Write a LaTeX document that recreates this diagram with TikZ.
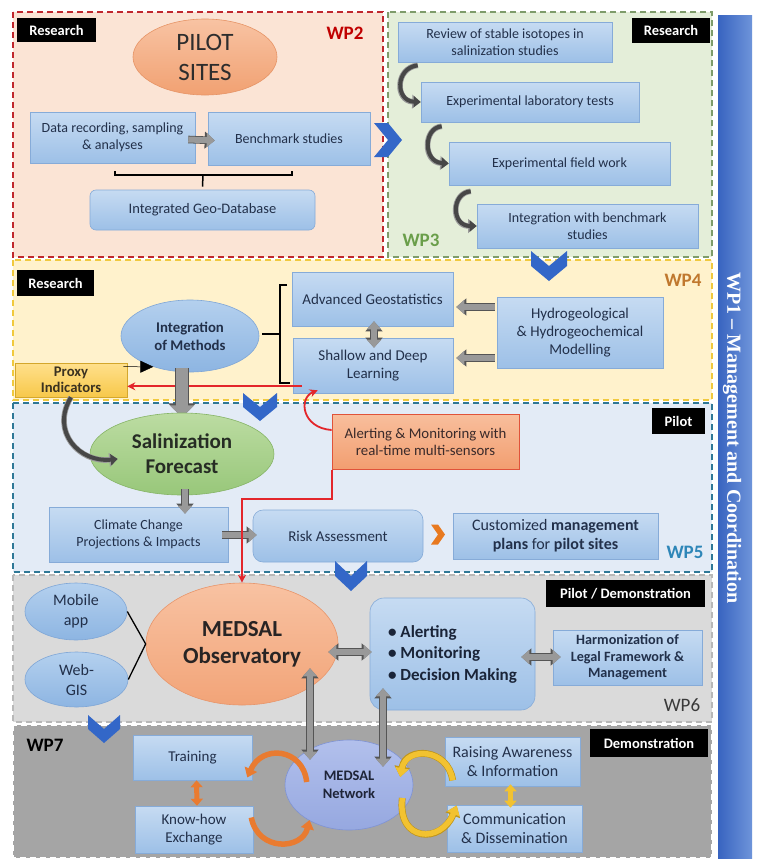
\documentclass[tikz,border=0pt]{standalone}
\usepackage{fontspec}
\setmainfont{Carlito}
\newfontfamily\titlefont{Liberation Serif}
\usetikzlibrary{arrows.meta,calc,shapes.geometric}

\definecolor{boxtop}{HTML}{C6DBF2}
\definecolor{boxbot}{HTML}{9DC0E7}
\definecolor{boxline}{HTML}{86ABD8}
\definecolor{boxtext}{HTML}{22304A}
\definecolor{chevblue}{HTML}{3367C8}
\definecolor{chevorange}{HTML}{E8791F}
\definecolor{gfill}{HTML}{999999}
\definecolor{gline}{HTML}{555555}
\definecolor{redline}{HTML}{E3262B}
\definecolor{ofill}{HTML}{E97B30}
\definecolor{oline}{HTML}{B9581B}
\definecolor{yfill}{HTML}{F2C230}
\definecolor{yline}{HTML}{BF951A}
\colorlet{cdark}{black!72}

\newcommand{\chevD}[5][chevblue]{\fill[#1] ({#2-#4/2},{#3-#5/2}) -- ({#2},{#3}) -- ({#2+#4/2},{#3-#5/2}) -- ({#2+#4/2},{#3}) -- ({#2},{#3+#5/2}) -- ({#2-#4/2},{#3}) -- cycle;}
\newcommand{\chevR}[5][chevblue]{\fill[#1] ({#2-#4/2},{#3-#5/2}) -- ({#2},{#3-#5/2}) -- ({#2+#4/2},{#3}) -- ({#2},{#3+#5/2}) -- ({#2-#4/2},{#3+#5/2}) -- ({#2},{#3}) -- cycle;}

\tikzset{
  wpframe/.style={dash pattern=on 6pt off 4pt, line width=1.4pt},
  box/.style={draw=boxline, line width=0.6pt, top color=boxtop, bottom color=boxbot,
    text=boxtext, align=center, inner sep=2pt, font=\fontsize{14}{17}\selectfont},
  ell/.style={ellipse, line width=0.6pt, align=center, inner sep=0pt},
  lbl/.style={fill=black, text=white, inner sep=0pt, font=\bfseries\fontsize{14.5}{16}\selectfont},
  wp/.style={font=\bfseries\fontsize{19}{21}\selectfont, inner sep=0pt},
  garrow/.style={draw=gfill, line width=6pt, -{Triangle[width=14pt,length=8pt]},
    preaction={draw=gline, line width=7.6pt, -{Triangle[width=16.5pt,length=10pt]}}},
  gdarrow/.style={draw=gfill, line width=6pt, {Triangle[width=14pt,length=8pt]}-{Triangle[width=14pt,length=8pt]},
    preaction={draw=gline, line width=7.6pt, {Triangle[width=16.5pt,length=10pt]}-{Triangle[width=16.5pt,length=10pt]}}},
  bigarrow/.style={draw=gfill, line width=12pt, -{Triangle[width=24pt,length=12pt]},
    preaction={draw=gline, line width=14pt, -{Triangle[width=27pt,length=14pt]}}},
  carrow/.style={draw=cdark, line width=4pt, -{Triangle[width=11pt,length=7pt]},
    preaction={draw=gline!60, line width=5.6pt, -{Triangle[width=13.5pt,length=8.5pt]}}},
  redarrow/.style={draw=redline, line width=1.8pt, -{Stealth[width=8pt,length=8pt]}},
  ocarrow/.style={draw=ofill, line width=5.5pt, -{Triangle[width=13pt,length=9pt]}},
  odarrow/.style={draw=ofill, line width=5pt, {Triangle[width=12pt,length=7pt]}-{Triangle[width=12pt,length=7pt]}},
  ycarrow/.style={draw=yfill, line width=5.5pt, -{Triangle[width=13pt,length=9pt]},
    preaction={draw=yline, line width=6.8pt, -{Triangle[width=15pt,length=10.5pt]}}},
  ydarrow/.style={draw=yfill, line width=5pt, {Triangle[width=12pt,length=7pt]}-{Triangle[width=12pt,length=7pt]}},
}

\begin{document}
\begin{tikzpicture}[x=1pt,y=-1pt]
\useasboundingbox (0,0) rectangle (758,860);
\fill[white] (0,0) rectangle (758,860);

% ---------------- frames
\filldraw[wpframe, draw={rgb,255:red,192;green,39;blue,45}, fill={rgb,255:red,251;green,228;blue,213}] (13,12) rectangle (383,257);
\filldraw[wpframe, draw={rgb,255:red,126;green,156;blue,106}, fill={rgb,255:red,228;green,238;blue,217}] (388,12) rectangle (712,257);
\filldraw[wpframe, draw={rgb,255:red,240;green,201;blue,62}, fill={rgb,255:red,255;green,242;blue,204}] (13,260) rectangle (712,400);
\filldraw[wpframe, draw={rgb,255:red,47;green,120;blue,150}, fill={rgb,255:red,227;green,235;blue,246}] (13,403) rectangle (712,572);
\filldraw[wpframe, draw={rgb,255:red,184;green,184;blue,184}, fill={rgb,255:red,218;green,218;blue,218}] (13,575) rectangle (712,722);
\filldraw[wpframe, draw=white, fill={rgb,255:red,165;green,165;blue,165}] (13,725) rectangle (712,858);

% ---------------- right bar
\fill[left color={rgb,255:red,56;green,100;blue,192}, right color={rgb,255:red,110;green,148;blue,218}] (718,15) rectangle (752,858);
\node[rotate=-90, text=white, inner sep=0pt, font=\titlefont\bfseries\fontsize{20}{22}\selectfont] (wp1) at (732,438) {WP1 – Management and Coordination};

% ---------------- labels
\node[lbl, minimum width=79, minimum height=24] (r2) at (56.5,30) {Research};
\node[lbl, minimum width=78, minimum height=25] (r3) at (671,30.5) {Research};
\node[lbl, minimum width=77, minimum height=26] (r4) at (55.5,283) {Research};
\node[lbl, minimum width=53, minimum height=26] (pl) at (678.5,421) {Pilot};
\node[lbl, minimum width=159, minimum height=27] (pdl) at (625.5,593.5) {Pilot / Demonstration};
\node[lbl, minimum width=118, minimum height=28] (dml) at (649,743) {Demonstration};

\node[wp, text={rgb,255:red,192;green,0;blue,0}] (wp2) at (345,33) {WP2};
\node[wp, text={rgb,255:red,106;green,158;blue,74}] (wp3) at (421,240) {WP3};
\node[wp, text={rgb,255:red,192;green,120;blue,46}] (wp4) at (683,280) {WP4};
\node[wp, text={rgb,255:red,46;green,134;blue,184}] (wp5) at (685,552) {WP5};
\node[wp, text={rgb,255:red,58;green,58;blue,58}, font=\fontsize{19}{21}\selectfont] (wp6) at (682,705) {WP6};
\node[wp, text=black] (wp7) at (45,745) {WP7};

% ---------------- WP2
\node[ell, top color={rgb,255:red,248;green,195;blue,163}, bottom color={rgb,255:red,241;green,161;blue,114}, draw={rgb,255:red,230;green,148;blue,102},
  minimum width=144, minimum height=76, text={rgb,255:red,45;green,45;blue,45}, font=\fontsize{25}{30}\selectfont] (pilot) at (205,57) {PILOT\\SITES};
\node[box, minimum width=165, minimum height=51] (data) at (112.5,137.5) {Data recording, sampling\\\& analyses};
\node[box, minimum width=162, minimum height=53] (bench) at (289,138.5) {Benchmark studies};
\node[box, rounded corners=6pt, minimum width=225, minimum height=40, font=\fontsize{14.5}{17}\selectfont] (geodb) at (202.5,210) {Integrated Geo-Database};
\draw[garrow] ($(data.east)+(-7,2)$) -- ($(bench.west)+(7,2)$);
\draw[line width=1.5pt] (115,171) -- (115,175) -- (292,175) -- (292,171);
\coordinate (brk) at (203,175);
\draw[line width=1.5pt] (brk) -- ($(geodb.north)+(0,-3)$);
\chevR{388}{140}{28}{34}

% ---------------- WP3
\node[box, minimum width=214, minimum height=40] (review) at (505,42) {Review of stable isotopes in\\salinization studies};
\node[box, minimum width=218, minimum height=40] (lab) at (530,102) {Experimental laboratory tests};
\node[box, minimum width=221, minimum height=43] (field) at (559.5,163.5) {Experimental field work};
\node[box, minimum width=221, minimum height=44] (integ) at (587.5,226) {Integration with benchmark\\studies};
\draw[carrow] ($(review.south west)+(20,3)$) .. controls (395,68) and (395,101) .. (lab.west);
\draw[carrow] ($(lab.south west)+(21,4)$) .. controls (423,128) and (423,162) .. (field.west);
\draw[carrow] ($(field.south west)+(22,6)$) .. controls (451,193) and (451,226) .. (integ.west);
\chevD{549}{266}{36}{30}

% ---------------- WP4
\node[ell, top color={rgb,255:red,180;green,208;blue,238}, bottom color={rgb,255:red,141;green,181;blue,226}, draw={rgb,255:red,127;green,166;blue,214},
  minimum width=138, minimum height=72, text=boxtext, font=\bfseries\fontsize{14.8}{18}\selectfont] (integm) at (190,336) {Integration\\of Methods};
\node[box, minimum width=161, minimum height=54, font=\fontsize{15}{18}\selectfont] (advgeo) at (372.5,299) {Advanced Geostatistics};
\node[box, minimum width=160, minimum height=55, font=\fontsize{15}{18}\selectfont] (shallow) at (373,365.5) {Shallow and Deep\\Learning};
\node[box, minimum width=166, minimum height=71, font=\fontsize{15}{18}\selectfont] (hydro) at (580,332.5) {Hydrogeological\\\& Hydrogeochemical\\Modelling};
\node[draw={rgb,255:red,212;green,167;blue,44}, top color={rgb,255:red,255;green,224;blue,140}, bottom color={rgb,255:red,247;green,200;blue,74},
  line width=0.6pt, minimum width=112, minimum height=34, inner sep=0pt, align=center,
  text={rgb,255:red,59;green,50;blue,32}, font=\bfseries\fontsize{14.7}{16}\selectfont] (proxy) at (71,380) {Proxy\\Indicators};
\draw[line width=1.5pt] (262,334) -- (280,334);
\draw[line width=1.5pt] (287,285) -- (280,285) -- (280,383) -- (290,383);
\draw[garrow] ($(hydro.west)+(-2,-25.5)$) -- ($(advgeo.east)+(3,8)$);
\draw[garrow] ($(hydro.west)+(-2,25.5)$) -- ($(shallow.east)+(3,-7.5)$);
\draw[gdarrow] ($(advgeo.south)+(1.5,-5)$) -- ($(shallow.north)+(1,10)$);
\coordinate (rs) at ($(shallow.south west)+(9,-7)$);
\draw[redarrow] (rs) -- (proxy.east |- rs);
\draw[-{Triangle[width=12pt,length=13pt]}, line width=0.5pt] ($(proxy.north east)+(-4,4)$) -- (integm.220);
\coordinate (ba) at ($(integm.south)+(-8,-4)$);
\draw[bigarrow] (ba) -- ($(integm.south)+(-8,45)$);
\chevD{260}{407}{34}{28}

% ---------------- WP5
\node[ell, top color={rgb,255:red,188;green,220;blue,162}, bottom color={rgb,255:red,152;green,199;blue,122}, draw={rgb,255:red,134;green,180;blue,102},
  minimum width=184, minimum height=82, text={rgb,255:red,38;green,44;blue,36}, font=\bfseries\fontsize{21}{25}\selectfont] (salin) at (182,454) {Salinization\\Forecast};
\node[draw={rgb,255:red,224;green,83;blue,58}, top color={rgb,255:red,248;green,190;blue,156}, bottom color={rgb,255:red,242;green,158;blue,112},
  line width=0.8pt, minimum width=187, minimum height=55, inner sep=0pt, align=center,
  text={rgb,255:red,58;green,42;blue,42}, font=\fontsize{14.8}{17.5}\selectfont] (alert) at (425.5,442) {Alerting \& Monitoring with\\real-time multi-sensors};
\node[box, minimum width=179, minimum height=55, font=\fontsize{14}{17.5}\selectfont] (climate) at (138.5,534.5) {Climate Change\\Projections \& Impacts};
\node[box, rounded corners=10pt, minimum width=170, minimum height=52, font=\fontsize{15}{18}\selectfont] (risk) at (338,536) {Risk Assessment};
\node[box, minimum width=205, minimum height=46, font=\fontsize{16}{19}\selectfont] (custom) at (555.5,536) {Customized \textbf{management}\\\textbf{plans} for \textbf{pilot sites}};
\draw[carrow] (proxy.south) .. controls (50,432) and (80,463) .. ($(salin.west)+(28,5)$);
\draw[redarrow] ($(alert.west)+(0,-12)$) .. controls (302,428) and (298,398) .. ($(shallow.south west)+(25,-3)$);
\draw[garrow] ($(salin.south)+(3,-6)$) -- ($(climate.north)+(46.5,7)$);
\draw[garrow] ($(climate.east)+(-6,0.5)$) -- ($(risk.west)+(4,-1)$);
\chevR[chevorange]{438}{534.5}{14}{20}
\chevD{351}{576}{32}{30}

% ---------------- WP6
\node[ell, top color={rgb,255:red,180;green,208;blue,238}, bottom color={rgb,255:red,141;green,181;blue,226}, draw={rgb,255:red,127;green,166;blue,214},
  minimum width=102, minimum height=57, text=boxtext, font=\fontsize{16}{20}\selectfont] (mobile) at (76,611.5) {Mobile\\app};
\node[ell, top color={rgb,255:red,180;green,208;blue,238}, bottom color={rgb,255:red,141;green,181;blue,226}, draw={rgb,255:red,127;green,166;blue,214},
  minimum width=103, minimum height=55, text=boxtext, font=\fontsize{16}{20}\selectfont] (webgis) at (76.5,679.5) {Web-\\GIS};
\node[ell, top color={rgb,255:red,248;green,194;blue,162}, bottom color={rgb,255:red,242;green,164;blue,120}, draw={rgb,255:red,232;green,149;blue,106},
  minimum width=192, minimum height=122, text={rgb,255:red,40;green,36;blue,36}, font=\bfseries\fontsize{23}{27}\selectfont] (obs) at (242,644) {MEDSAL\\Observatory};
\node[box, rounded corners=14pt, minimum width=165, minimum height=112, align=left, inner sep=0pt,
  text={rgb,255:red,26;green,36;blue,56}, font=\bfseries\fontsize{17}{21.5}\selectfont] (abox) at (452.5,654) {• Alerting\\• Monitoring\\• Decision Making};
\node[box, minimum width=149, minimum height=55, font=\bfseries\fontsize{14.2}{16.5}\selectfont] (harm) at (627.5,657.5) {Harmonization of\\Legal Framework \&\\Management};
\draw[redarrow] (alert.south west) -- ++(0,29) -| (obs.north);
\draw[line width=1.3pt] (mobile.east) -- (obs.west);
\draw[line width=1.3pt] (webgis.east) -- (obs.west);
\draw[gdarrow] ($(obs.east)+(-10,8)$) -- ($(abox.west)+(2,-2)$);
\draw[gdarrow] ($(abox.east)+(-14,3)$) -- ($(harm.west)+(8,-0.5)$);
\chevD{104}{729}{32}{28}

% ---------------- WP7
\node[box, minimum width=119, minimum height=45, font=\fontsize{15}{18}\selectfont] (training) at (192.5,757.5) {Training};
\node[box, minimum width=118, minimum height=47, font=\fontsize{15}{18.5}\selectfont] (knowhow) at (194,829.5) {Know-how\\Exchange};
\node[ell, top color={rgb,255:red,178;green,192;blue,236}, bottom color={rgb,255:red,150;green,168;blue,224}, draw={rgb,255:red,127;green,147;blue,212},
  minimum width=128, minimum height=90, text={rgb,255:red,30;green,36;blue,56}, font=\bfseries\fontsize{14.5}{18}\selectfont] (network) at (349,785) {MEDSAL\\Network};
\node[box, minimum width=135, minimum height=49, font=\fontsize{16}{18.5}\selectfont] (raising) at (512.5,761.5) {Raising Awareness\\\& Information};
\node[box, minimum width=135, minimum height=47, font=\fontsize{16}{18.5}\selectfont] (comm) at (514.5,828.5) {Communication\\\& Dissemination};

\draw[gdarrow] ($(obs.south)+(68,-37)$) -- ($(network.north)+(-39,20)$);
\draw[gdarrow] ($(abox.south)+(-69.5,-22)$) -- ($(network.north)+(34,27)$);
\draw[odarrow] ($(training.south)+(4,0)$) -- ($(knowhow.north)+(3,0)$);
\draw[ocarrow] ($(network.west)+(22,-3)$) .. controls (303,748) and (262,744) .. ($(training.east)+(-5,20)$);
\draw[ocarrow] ($(knowhow.east)+(-2,-12)$) .. controls (258,852) and (302,850) .. ($(network.south west)+(6,3)$);
\draw[ycarrow] ($(raising.south west)+(8,-6)$) .. controls (448,748) and (406,746) .. ($(network.east)+(-13,-8)$);
\draw[ycarrow] ($(network.east)+(-11,13)$) .. controls (397,842) and (441,844) .. ($(comm.west)+(10,-23)$);
\draw[ydarrow] ($(raising.south)+(-2,-2)$) -- ($(comm.north)+(-4,3)$);
\end{tikzpicture}
\end{document}
